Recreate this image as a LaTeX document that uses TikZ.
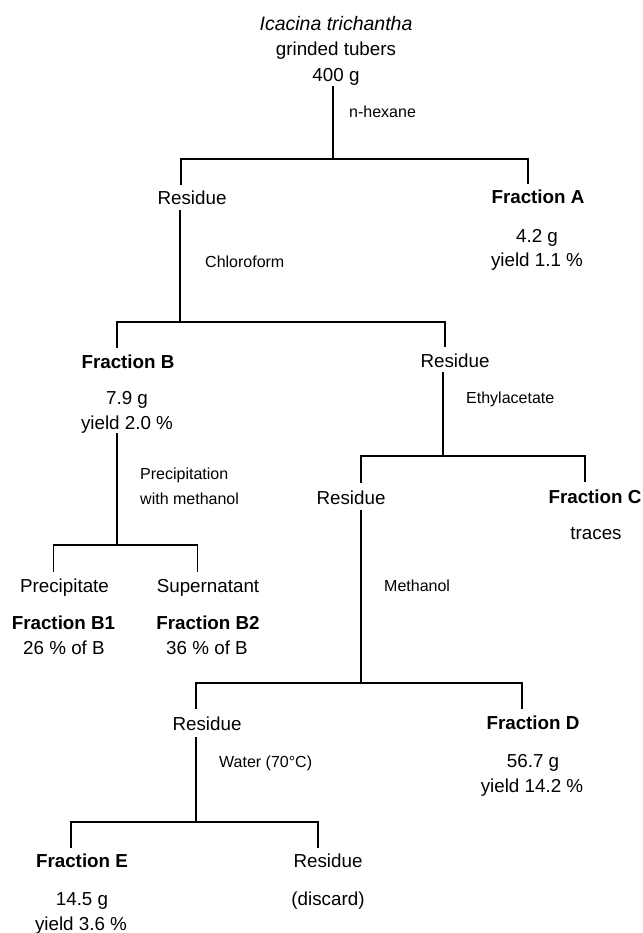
\documentclass[tikz,border=0pt]{standalone}
\usepackage{fontspec}
\setmainfont{Liberation Sans}
\begin{document}
\begin{tikzpicture}[x=1pt,y=-1pt,
  txt/.style={anchor=base,inner sep=0pt,font=\fontsize{18.8}{25}\selectfont},
  bld/.style={anchor=base,inner sep=0pt,font=\fontsize{18.8}{25}\selectfont\bfseries},
  lab/.style={anchor=base west,inner sep=0pt,font=\fontsize{16}{25}\selectfont},
  conn/.style={line width=1.6pt}]
\fill[white] (0,0) rectangle (642,933);
\useasboundingbox (0,0) rectangle (642,933);

% root
\node[txt,font=\fontsize{19.5}{25}\selectfont\itshape] (title) at (336,31) {Icacina trichantha};
\node[txt] (tubers) at (336,56) {grinded tubers};
\node[txt] (w400) at (336,82) {400 g};
\node[lab] (hex) at (349,118) {n-hexane};

% level 1
\node[txt] (res1) at (192,205) {Residue};
\node[bld] (fA) at (538,204) {Fraction A};
\node[txt] (fAw) at (537,242) {4.2 g};
\node[txt] (fAy) at (537,266) {yield 1.1 \%};
\node[lab] (chl) at (205,267) {Chloroform};

% level 2
\node[bld] (fB) at (128,368) {Fraction B};
\node[txt] (fBw) at (127,404) {7.9 g};
\node[txt] (fBy) at (127,429) {yield 2.0 \%};
\node[txt] (res2) at (455,367) {Residue};
\node[lab] (eth) at (466,403) {Ethylacetate};
\node[lab] (prec) at (140,479) {Precipitation};
\node[lab] (wmeth) at (140,504) {with methanol};

% level 3
\node[txt] (res3) at (351,504) {Residue};
\node[bld] (fC) at (595,503) {Fraction C};
\node[txt] (trac) at (596,539) {traces};
\node[txt] (pcp) at (64.5,592) {Precipitate};
\node[txt] (sup) at (208,592) {Supernatant};
\node[lab] (meth) at (384,591) {Methanol};
\node[bld] (fB1) at (63.5,629) {Fraction B1};
\node[bld] (fB2) at (208,629) {Fraction B2};
\node[txt] (fB1p) at (64,654) {26 \% of B};
\node[txt] (fB2p) at (207,654) {36 \% of B};

% level 4
\node[txt] (res4) at (207,730) {Residue};
\node[bld] (fD) at (533,729) {Fraction D};
\node[txt] (fDw) at (533,767) {56.7 g};
\node[txt] (fDy) at (532,792) {yield 14.2 \%};
\node[lab] (wat) at (219,767) {Water (70°C)};

% level 5
\node[bld] (fE) at (82,867) {Fraction E};
\node[txt] (res5) at (328,867) {Residue};
\node[txt] (fEw) at (82,905) {14.5 g};
\node[txt] (disc) at (328,905) {(discard)};
\node[txt] (fEy) at (81,930) {yield 3.6 \%};

% split coordinates
\coordinate (t1) at (333,86);  \coordinate (s1) at (333,159);
\coordinate (l1) at (181,185); \coordinate (r1) at (528,184);
\coordinate (t2) at (180,210); \coordinate (s2) at (180,322);
\coordinate (l2) at (117,348); \coordinate (r2) at (445,347);
\coordinate (t3) at (443,372); \coordinate (s3) at (443,456);
\coordinate (l3) at (361,483); \coordinate (r3) at (585,482);
\coordinate (t4) at (117,433); \coordinate (s4) at (117,545);
\coordinate (l4) at (53.5,572); \coordinate (r4) at (197.5,572);
\coordinate (t5) at (361,510); \coordinate (s5) at (361,683);
\coordinate (l5) at (196,709); \coordinate (r5) at (522,709);
\coordinate (t6) at (196,737); \coordinate (s6) at (196,822);
\coordinate (l6) at (71,848);  \coordinate (r6) at (318,848);

\foreach \i in {1,...,6}{
  \draw[conn] (t\i) -- (s\i);
  \draw[conn] (l\i) |- (s\i) -| (r\i);
}
\end{tikzpicture}
\end{document}
